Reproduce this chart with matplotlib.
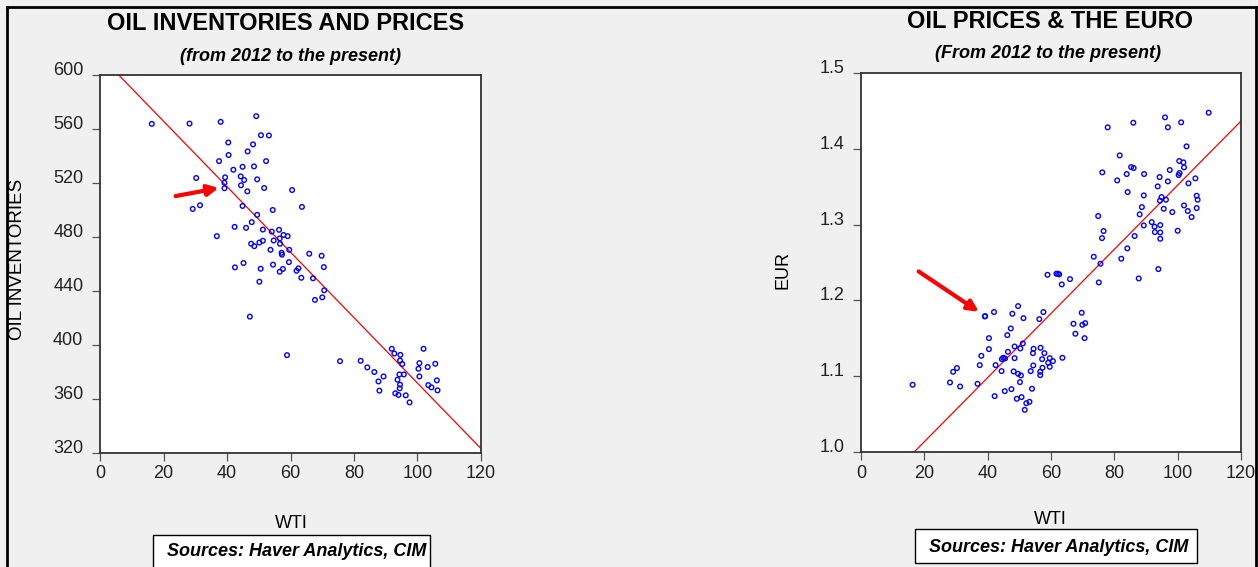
import numpy as np
import matplotlib
matplotlib.use("Agg")
import matplotlib.pyplot as plt
from matplotlib.lines import Line2D
from matplotlib.patches import Rectangle

plt.rcParams['font.family'] = ['Liberation Sans', 'DejaVu Sans']

# left chart: WTI vs crude oil inventories
wti_inv = [16.3, 28.2, 38.0, 49.2, 50.7, 53.2, 40.4, 48.2, 46.5, 40.5, 37.5, 52.3, 44.9, 48.5, 42.0,
           30.3, 39.4, 44.3, 45.4, 49.5, 39.2, 44.4, 39.2, 46.4, 51.7, 60.5, 29.2, 31.5, 44.9, 63.6,
           54.4, 49.5, 47.8, 42.4, 46.0, 51.3, 54.1, 56.4, 36.8, 57.8, 59.1, 54.7, 56.6, 56.7, 47.6,
           48.6, 50.2, 51.3, 53.7, 59.6, 57.2, 57.3, 65.9, 69.8, 42.5, 45.2, 59.5, 54.5, 50.6, 57.6,
           56.6, 62.5, 61.9, 70.5, 63.4, 67.1, 50.2, 70.6, 70.0, 67.7, 47.2, 58.9, 75.6, 82.1, 84.2,
           86.4, 89.3, 87.7, 88.0, 91.9, 92.7, 94.6, 94.5, 95.2, 94.3, 95.7, 93.7, 94.5, 94.4, 93.0,
           94.0, 96.3, 97.5, 101.9, 100.6, 100.3, 100.6, 103.2, 105.6, 103.4, 104.4, 106.1, 106.3]
inventories = [563.8, 564.0, 565.3, 569.5, 555.4, 555.2, 550.0, 548.6, 543.4, 540.7, 536.2, 536.2, 532.0,
               532.3, 529.8, 523.7, 524.2, 524.9, 522.2, 522.7, 520.2, 518.3, 516.1, 513.8, 516.3, 514.8,
               500.8, 503.5, 503.0, 502.3, 500.0, 496.4, 491.0, 487.5, 486.8, 485.5, 484.0, 485.3, 480.6,
               481.5, 480.6, 477.4, 478.9, 475.0, 475.0, 473.2, 475.9, 477.2, 470.5, 470.5, 468.3, 466.9,
               467.6, 466.1, 457.5, 460.7, 461.4, 459.5, 456.5, 456.3, 454.3, 456.8, 455.0, 457.7, 449.8,
               449.4, 446.9, 440.5, 435.3, 433.4, 421.0, 392.5, 388.0, 388.3, 383.4, 380.0, 376.7, 373.0,
               366.2, 397.2, 393.7, 392.7, 388.5, 385.9, 378.2, 378.2, 374.3, 370.6, 367.9, 364.2, 363.0,
               362.7, 357.5, 397.2, 386.6, 382.4, 376.7, 383.7, 386.1, 370.3, 368.6, 373.8, 366.4]
fit_inv = (-2.4256, 614.3)  # slope, intercept of drawn regression line

# right chart: WTI vs EUR
wti_eur = [16.3, 28.1, 29.1, 30.3, 31.3, 36.8, 37.5, 38.0, 39.1, 39.2, 42.0, 40.4, 40.4, 42.5, 42.2,
           44.4, 44.5, 44.9, 45.5, 45.4, 46.2, 46.4, 47.3, 47.8, 47.5, 48.2, 48.5, 48.5, 49.2, 49.6,
           49.6, 50.2, 50.3, 50.5, 50.7, 51.1, 51.3, 51.7, 52.2, 53.2, 53.6, 54.0, 54.3, 54.5, 54.4,
           56.3, 56.7, 56.6, 56.6, 57.2, 57.3, 57.6, 57.9, 58.9, 59.1, 59.6, 59.6, 60.6, 61.7, 62.2,
           62.6, 63.4, 63.6, 66.0, 67.1, 67.7, 69.7, 69.9, 70.6, 70.8, 73.5, 74.9, 75.1, 75.6, 76.1,
           76.2, 76.6, 77.9, 80.9, 81.7, 82.2, 83.9, 84.2, 84.1, 85.3, 86.1, 86.0, 86.4, 87.7, 88.0,
           88.7, 89.3, 89.3, 89.4, 91.8, 92.7, 92.8, 93.7, 93.9, 94.3, 94.4, 94.5, 94.5, 94.5, 94.9,
           95.6, 96.0, 96.3, 96.9, 96.9, 97.5, 98.3, 100.0, 100.3, 100.6, 100.5, 101.1, 101.8, 102.0,
           102.0, 102.8, 103.2, 103.4, 104.4, 105.6, 106.0, 106.3, 106.0, 109.8]
eur = [1.0887, 1.0917, 1.1058, 1.1107, 1.0864, 1.0900, 1.1146, 1.1269, 1.1788, 1.1793, 1.1846, 1.1502,
       1.1357, 1.1146, 1.0737, 1.1067, 1.1225, 1.1243, 1.1234, 1.0803, 1.1542, 1.1322, 1.1630, 1.1824,
       1.0829, 1.1063, 1.1392, 1.1238, 1.0702, 1.1925, 1.1032, 1.0922, 1.1366, 1.1010, 1.0724, 1.1432,
       1.1766, 1.0556, 1.0644, 1.0662, 1.1067, 1.0834, 1.1304, 1.1362, 1.1142, 1.1753, 1.1375, 1.1058,
       1.1014, 1.1225, 1.1111, 1.1846, 1.1304, 1.2338, 1.1177, 1.1238, 1.1124, 1.1199, 1.2352, 1.2352,
       1.2343, 1.2211, 1.1243, 1.2281, 1.1692, 1.1560, 1.1837, 1.1678, 1.1502, 1.1700, 1.2576, 1.3113,
       1.2237, 1.2484, 1.2822, 1.3689, 1.2915, 1.4283, 1.3583, 1.3913, 1.2550, 1.3667, 1.3429, 1.2686,
       1.3759, 1.3746, 1.4344, 1.2849, 1.2290, 1.3135, 1.3231, 1.3385, 1.2989, 1.3667, 1.3033, 1.2972,
       1.2901, 1.3504, 1.2413, 1.3627, 1.3315, 1.2994, 1.2897, 1.2813, 1.3363, 1.3209, 1.4415, 1.3328,
       1.3570, 1.4283, 1.3720, 1.3165, 1.2919, 1.3654, 1.3680, 1.3839, 1.4349, 1.3821, 1.3755, 1.3253,
       1.4032, 1.3179, 1.3544, 1.3099, 1.3610, 1.3381, 1.3328, 1.3218, 1.4476]
fit_eur = (0.004231, 0.92892)

W, H = 1258, 567
fig = plt.figure(figsize=(W / 100, H / 100), dpi=100)
fig.patch.set_facecolor('#f0f0f0')

# outer frame (left, top, right)
for xs, ys in [([7, 7], [7, 567]), ([7, 1256], [7, 7]), ([1256, 1256], [7, 567])]:
    fig.add_artist(Line2D([x / W for x in xs], [1 - y / H for y in ys],
                          transform=fig.transFigure, color='black', lw=2))


def make_panel(rect, x, y, fit, ylim, yticks, yfmt, arrow):
    ax = fig.add_axes(rect)
    ax.set_facecolor('white')
    ax.scatter(x, y, s=11, facecolors='none', edgecolors='#0000ff', linewidths=1.0, zorder=3)
    xx = np.array([0, 120])
    ax.plot(xx, fit[0] * xx + fit[1], color='red', lw=0.9, zorder=2)
    ax.set_xlim(0, 120)
    ax.set_ylim(*ylim)
    ax.set_xticks(range(0, 121, 20))
    ax.set_yticks(yticks)
    ax.set_yticklabels([yfmt.format(v) for v in yticks])
    for s in ax.spines.values():
        s.set_color('#333333')
        s.set_linewidth(1.3)
    ax.tick_params(direction='out', length=6, width=0.9, color='#555555',
                   labelsize=13, labelcolor='#222222')
    ax.tick_params(axis='y', pad=6)
    ax.tick_params(axis='x', pad=3)
    for lab in ax.get_yticklabels():
        lab.set_verticalalignment('baseline')
    ax.annotate('', xy=arrow[1], xytext=arrow[0],
                arrowprops=dict(arrowstyle='-|>', color='red', lw=3, mutation_scale=16,
                                shrinkA=0, shrinkB=0), zorder=4)
    return ax


make_panel([100 / W, 1 - 453 / H, 381 / W, 378 / H], wti_inv, inventories, fit_inv,
           (320, 600), list(range(320, 601, 40)), '{:d}',
           ((23.8, 510.3), (37.4, 516.3)))
make_panel([861 / W, 1 - 452 / H, 380 / W, 379 / H], wti_eur, eur, fit_eur,
           (1.0, 1.5), [1.0, 1.1, 1.2, 1.3, 1.4, 1.5], '{:.1f}',
           ((18.2, 1.2382), (37.2, 1.1850)))

# titles and labels
fig.text(286 / W, 1 - 23 / H, 'OIL INVENTORIES AND PRICES', ha='center', va='center',
         fontsize=17, fontweight='bold')
fig.text(290 / W, 1 - 57 / H, '(from 2012 to the present)', ha='center', va='center',
         fontsize=13, fontweight='bold', style='italic')
fig.text(1050 / W, 1 - 22 / H, 'OIL PRICES & THE EURO', ha='center', va='center',
         fontsize=17, fontweight='bold')
fig.text(1048 / W, 1 - 53 / H, '(From 2012 to the present)', ha='center', va='center',
         fontsize=13, fontweight='bold', style='italic')

fig.text(18 / W, 1 - 259 / H, 'OIL INVENTORIES', rotation=90, ha='center', va='center', fontsize=13.5)
fig.text(783 / W, 1 - 270 / H, 'EUR', rotation=90, ha='center', va='center', fontsize=13)
fig.text(291 / W, 1 - 524 / H, 'WTI', ha='center', va='center', fontsize=13)
fig.text(1050 / W, 1 - 520 / H, 'WTI', ha='center', va='center', fontsize=13)

# source boxes
fig.add_artist(Rectangle((153 / W, -0.02), 277 / W, (567 - 535) / H + 0.02, transform=fig.transFigure,
                         facecolor='white', edgecolor='black', lw=1))
fig.text(297 / W, 1 - 552 / H, 'Sources: Haver Analytics, CIM', ha='center', va='center',
         fontsize=13, fontweight='bold', style='italic')
fig.add_artist(Rectangle((915 / W, 1 - 563 / H), 282 / W, 34 / H, transform=fig.transFigure,
                         facecolor='white', edgecolor='black', lw=1))
fig.text(1059 / W, 1 - 547 / H, 'Sources: Haver Analytics, CIM', ha='center', va='center',
         fontsize=13, fontweight='bold', style='italic')

fig.savefig('out.png', dpi=100, facecolor=fig.get_facecolor())
